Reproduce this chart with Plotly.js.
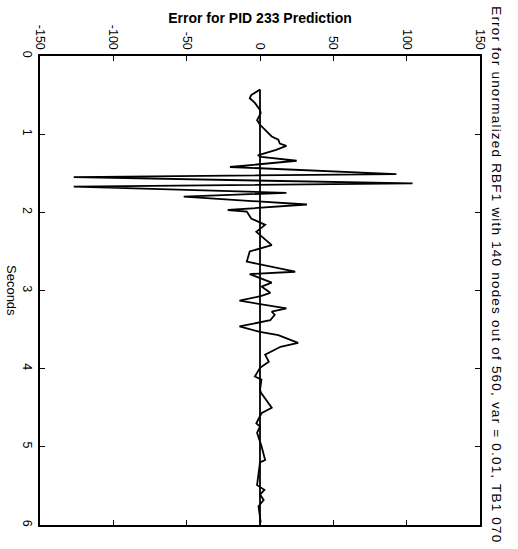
<!DOCTYPE html>
<html>
<head>
<meta charset="utf-8">
<script src="https://cdn.plot.ly/plotly-3.0.1.min.js"></script>
<style>
  html, body { margin: 0; padding: 0; background: #fff; }
  #chart { width: 518px; height: 549px; }
  g.annotation[data-index="0"] text { letter-spacing: 1.2px; }
</style>
</head>
<body>
<div id="chart"></div>
<script>
// Time (seconds) of each sample
const seconds = [
  0.43, 0.50, 0.54, 0.60, 0.69, 0.73, 0.82, 0.88, 1.03, 1.07,
  1.12, 1.15, 1.20, 1.24, 1.27, 1.29, 1.34, 1.42, 1.51, 1.55,
  1.63, 1.67, 1.75, 1.80, 1.90, 1.97, 1.99, 2.08, 2.16, 2.25,
  2.42, 2.50, 2.63, 2.76, 2.79, 2.90, 2.95, 3.03, 3.07, 3.13,
  3.18, 3.23, 3.27, 3.31, 3.38, 3.46, 3.53, 3.57, 3.67, 3.72,
  3.82, 3.91, 3.99, 4.10, 4.14, 4.27, 4.31, 4.50, 4.57, 4.70,
  4.74, 4.82, 4.99, 5.17, 5.20, 5.32, 5.49, 5.55, 5.61, 5.68,
  5.76, 5.97
];
// Prediction error at each sample
const errorValues = [
  0, -6, -7, -3.5, 0, 0.5, -2, 0, 8, 12.5,
  13.5, 18, 11, 4.5, -1.5, 1, 25, -20.5, 93, -127,
  104, -127, 18, -52, 32, -22, -9, -6, 3.5, -2.5,
  8, -7, -9, 24, -7, 8, 1, 7, 1, -14,
  2, 18, 8, 10, 7, -14, 0, 12.5, 26, 14,
  3.5, 6, 0, -3.5, 1, 0, 0.7, 8, 1, -2.5,
  0, -2, 1, 3.5, 0, -1, -2, 3, 0, 2.5,
  -1, 0.5
];
// Zero reference line
const zeroLineSeconds = [0.43, 6];
const zeroLineValues = [0, 0];

const valueTicks = [-150, -100, -50, 0, 50, 100, 150];
const valueTickLabels = ['-150', '-100', '-50', '0', '50', '100', '150'];
const secondTicks = [0, 1, 2, 3, 4, 5, 6];
const secondTickLabels = ['0', '1', '2', '3', '4', '5', '6'];

const titleText = 'Error for PID 233 Prediction';
const sideText = 'Error for unormalized RBF1 with 140 nodes out of 560, var = 0.01, TB1 070';
const axisText = 'Seconds';

const font = 'Liberation Sans, Arial, sans-serif';

const traces = [
  {
    x: zeroLineValues, y: zeroLineSeconds, type: 'scatter', mode: 'lines',
    line: {color: '#000', width: 1.8}, hoverinfo: 'skip'
  },
  {
    x: errorValues, y: seconds, type: 'scatter', mode: 'lines',
    line: {color: '#000', width: 1.8}
  }
];

const layout = {
  width: 518, height: 549,
  margin: {l: 40, r: 38, t: 56, b: 24},
  paper_bgcolor: '#fff', plot_bgcolor: '#fff',
  showlegend: false,
  font: {family: font, color: '#000', size: 12},
  title: {
    text: '<b>' + titleText + '</b>',
    font: {family: font, size: 14, color: '#000'},
    x: 0.5, xref: 'paper', xanchor: 'center',
    y: 1 - 18 / 549, yref: 'container', yanchor: 'middle'
  },
  xaxis: {
    range: [-150, 150], side: 'top',
    tickmode: 'array', tickvals: valueTicks, ticktext: valueTickLabels,
    tickangle: 90, ticks: 'inside', ticklen: 5, tickcolor: '#000', tickwidth: 1,
    showline: true, linecolor: '#000', linewidth: 1.8, mirror: 'ticks',
    showgrid: false, zeroline: false,
    tickfont: {family: font, size: 12.5, color: '#000'}
  },
  yaxis: {
    range: [6, 0],
    tickmode: 'array', tickvals: secondTicks, ticktext: secondTickLabels,
    tickangle: 90, ticks: 'inside', ticklen: 5, tickcolor: '#000', tickwidth: 1,
    showline: true, linecolor: '#000', linewidth: 1.8, mirror: 'ticks',
    showgrid: false, zeroline: false,
    tickfont: {family: font, size: 12.5, color: '#000'}
  },
  annotations: [
    {
      text: sideText, xref: 'paper', yref: 'paper',
      x: (497 - 40) / 440, y: (525 - 275) / 469,
      xanchor: 'center', yanchor: 'middle', textangle: 90,
      showarrow: false, font: {family: font, size: 13.5, color: '#000'}
    },
    {
      text: axisText, xref: 'paper', yref: 'paper',
      x: (12 - 40) / 440, y: (525 - 290) / 469,
      xanchor: 'center', yanchor: 'middle', textangle: 90,
      showarrow: false, font: {family: font, size: 13, color: '#000'}
    }
  ]
};

Plotly.newPlot('chart', traces, layout, {staticPlot: true, displayModeBar: false});
</script>
</body>
</html>
